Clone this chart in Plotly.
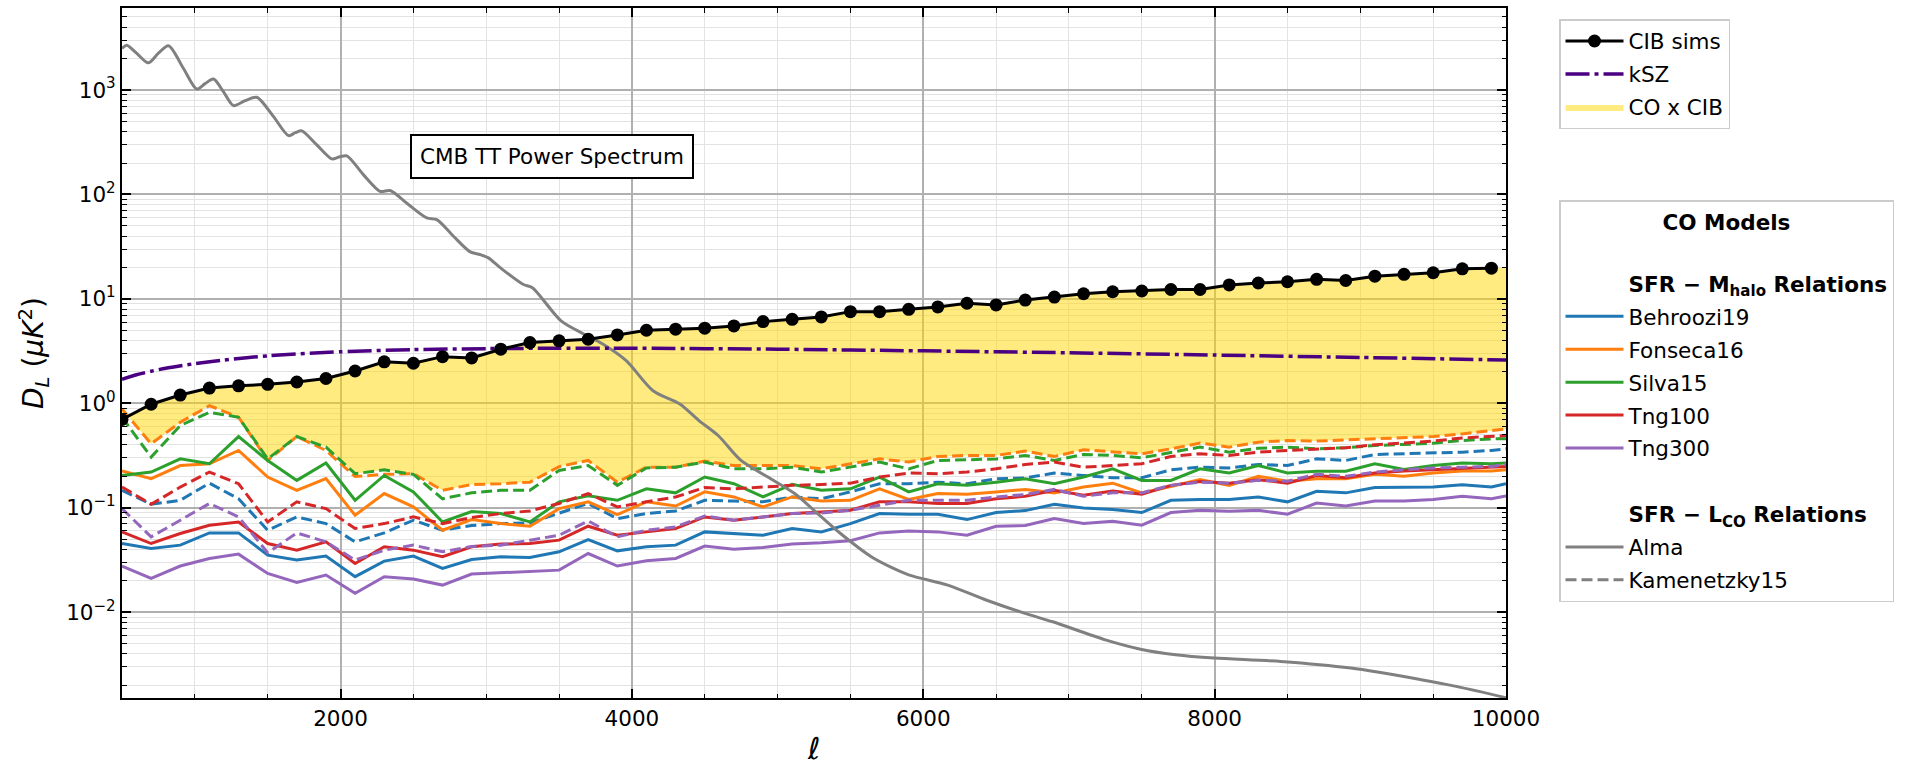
import numpy as np
import plotly.graph_objects as go

# ---------------- data ----------------
ell_bins = [500, 700, 900, 1100, 1300, 1500, 1700, 1900, 2100, 2300, 2500, 2700,
            2900, 3100, 3300, 3500, 3700, 3900, 4100, 4300, 4500, 4700, 4900, 5100,
            5300, 5500, 5700, 5900, 6100, 6300, 6500, 6700, 6900, 7100, 7300, 7500,
            7700, 7900, 8100, 8300, 8500, 8700, 8900, 9100, 9300, 9500, 9700, 9900]
ell_edge = [10000]

cib_sims = [0.70, 0.98, 1.20, 1.40, 1.47, 1.52, 1.60, 1.73, 2.04, 2.50, 2.42, 2.80,
            2.72, 3.30, 3.82, 3.97, 4.11, 4.52, 5.01, 5.13, 5.24, 5.51, 6.06, 6.38,
            6.72, 7.55, 7.55, 7.95, 8.37, 9.08, 8.75, 9.75, 10.4, 11.2, 11.7, 11.9,
            12.3, 12.3, 13.6, 14.2, 14.6, 15.4, 15.0, 16.5, 17.2, 17.8, 19.4, 19.7]
cib_edge = [19.8]

ell_ksz = [500, 600, 700, 800, 1000, 1200, 1500, 2000, 2500, 3000, 3500, 4000,
           5000, 6000, 7000, 8000, 9000, 10000]
ksz = [1.70, 1.88, 2.03, 2.17, 2.40, 2.60, 2.85, 3.12, 3.27, 3.34, 3.37, 3.37,
       3.30, 3.18, 3.05, 2.90, 2.75, 2.60]

ell_cmb = [500, 533, 600, 681, 750, 819, 922, 1013, 1070, 1128, 1196, 1265, 1345,
           1425, 1540, 1643, 1690, 1734, 1837, 1940, 1990, 2043, 2158, 2272, 2340,
           2466, 2592, 2661, 2775, 2890, 2958, 3015, 3096, 3252, 3317, 3514, 3672,
           3800, 3961, 4145, 4329, 4460, 4592, 4749, 4933, 5117, 5275, 5432, 5643,
           5774, 5905, 6168, 6431, 6694, 6889, 7250, 7491, 7732, 7997, 8454, 8935,
           9417, 9658, 10000]
cmb_tt = [2495, 2685, 2250, 1820, 2250, 2650, 1608, 1021, 1150, 1273, 964, 708, 790,
          851, 556, 366, 390, 406, 298, 219, 228, 234, 154, 107, 109,
          80, 59.6, 57.4, 39.8, 28.2, 26.6, 24.7, 19.9, 13.8, 12.8, 6.15, 4.59,
          3.7, 2.56, 1.32, 0.986, 0.684, 0.492, 0.284, 0.197, 0.137, 0.088, 0.0567, 0.034,
          0.0272, 0.0227, 0.0182, 0.0131, 0.0098, 0.0081, 0.00544, 0.00443, 0.00392, 0.00364, 0.00338, 0.00292,
          0.00226, 0.00195, 0.00152]

# CO models: "alma" = solid (SFR-L_CO Alma), "kam" = dashed (Kamenetzky15)
behroozi19_alma = [0.0455, 0.0408, 0.0439, 0.0575, 0.0575, 0.0352, 0.0316, 0.0345, 0.0219, 0.0309, 0.0345, 0.0263, 0.0320,
                   0.0340, 0.0334, 0.0379, 0.0497, 0.0387, 0.0423, 0.0439, 0.0588, 0.0567, 0.0546, 0.0633, 0.0588, 0.0706,
                   0.0880, 0.0867, 0.0867, 0.0771, 0.0900, 0.0940, 0.108, 0.0996, 0.0961, 0.0900, 0.118, 0.120, 0.120,
                   0.127, 0.114, 0.144, 0.139, 0.156, 0.158, 0.158, 0.166, 0.158, 0.170]
fonseca16_alma = [0.225, 0.190, 0.254, 0.264, 0.354, 0.197, 0.147, 0.190, 0.0848, 0.137, 0.102, 0.0610, 0.0771,
                  0.0706, 0.0666, 0.0982, 0.114, 0.0861, 0.114, 0.104, 0.142, 0.127, 0.102, 0.127, 0.116, 0.118,
                  0.152, 0.120, 0.137, 0.135, 0.142, 0.150, 0.139, 0.158, 0.172, 0.139, 0.160, 0.186, 0.164,
                  0.200, 0.180, 0.190, 0.190, 0.209, 0.200, 0.215, 0.225, 0.225, 0.231]
silva15_alma = [0.204, 0.220, 0.294, 0.264, 0.481, 0.284, 0.183, 0.268, 0.118, 0.204, 0.142, 0.0732, 0.0920,
                0.0880, 0.0732, 0.114, 0.130, 0.118, 0.152, 0.139, 0.197, 0.170, 0.127, 0.168, 0.147, 0.152,
                0.197, 0.142, 0.170, 0.164, 0.176, 0.190, 0.170, 0.197, 0.236, 0.183, 0.183, 0.236, 0.215,
                0.254, 0.215, 0.224, 0.224, 0.264, 0.233, 0.254, 0.268, 0.264, 0.268]
tng100_alma = [0.0588, 0.0455, 0.0567, 0.0681, 0.0732, 0.0455, 0.0393, 0.0472, 0.0293, 0.0423, 0.0393, 0.0340, 0.0423,
               0.0449, 0.0455, 0.0490, 0.0666, 0.0546, 0.0588, 0.0633, 0.0818, 0.0760, 0.0818, 0.0880, 0.0913, 0.0947,
               0.114, 0.114, 0.110, 0.110, 0.122, 0.129, 0.147, 0.132, 0.145, 0.135, 0.164, 0.179, 0.172,
               0.186, 0.172, 0.204, 0.194, 0.215, 0.225, 0.231, 0.236, 0.245, 0.249]
tng300_alma = [0.0277, 0.0211, 0.0277, 0.0327, 0.0360, 0.0235, 0.0193, 0.0227, 0.0152, 0.0219, 0.0208, 0.0182, 0.0232,
               0.0239, 0.0246, 0.0253, 0.0365, 0.0277, 0.0311, 0.0327, 0.0430, 0.0402, 0.0417, 0.0449, 0.0462, 0.0483,
               0.0575, 0.0601, 0.0588, 0.0546, 0.0666, 0.0676, 0.0788, 0.0706, 0.0743, 0.0681, 0.0900, 0.0947, 0.0927,
               0.0947, 0.0867, 0.111, 0.104, 0.116, 0.116, 0.120, 0.129, 0.122, 0.130]

behroozi19_kam = [0.147, 0.108, 0.118, 0.172, 0.122, 0.0610, 0.0818, 0.0706, 0.0472, 0.0575, 0.0760, 0.0610, 0.0676,
                  0.0706, 0.0716, 0.0880, 0.110, 0.0788, 0.0880, 0.0933, 0.118, 0.116, 0.114, 0.127, 0.122, 0.142,
                  0.170, 0.170, 0.176, 0.170, 0.190, 0.193, 0.215, 0.204, 0.194, 0.194, 0.231, 0.245, 0.241,
                  0.260, 0.254, 0.294, 0.284, 0.324, 0.329, 0.334, 0.341, 0.354, 0.367]
fonseca16_kam = [0.884, 0.410, 0.659, 0.951, 0.736, 0.284, 0.481, 0.354, 0.199, 0.209, 0.212, 0.147, 0.167,
                 0.170, 0.176, 0.248, 0.284, 0.176, 0.245, 0.245, 0.280, 0.254, 0.254, 0.254, 0.236, 0.264,
                 0.294, 0.274, 0.310, 0.317, 0.317, 0.349, 0.310, 0.359, 0.341, 0.329, 0.367, 0.416, 0.381,
                 0.425, 0.441, 0.435, 0.447, 0.457, 0.466, 0.481, 0.510, 0.549, 0.569]
silva15_kam = [0.736, 0.306, 0.613, 0.821, 0.736, 0.294, 0.481, 0.381, 0.212, 0.231, 0.209, 0.122, 0.139,
               0.147, 0.147, 0.228, 0.254, 0.164, 0.241, 0.245, 0.274, 0.236, 0.236, 0.245, 0.220, 0.245,
               0.274, 0.236, 0.284, 0.288, 0.294, 0.317, 0.284, 0.324, 0.317, 0.301, 0.341, 0.381, 0.341,
               0.372, 0.381, 0.367, 0.376, 0.395, 0.404, 0.416, 0.441, 0.457, 0.457]
tng100_kam = [0.158, 0.108, 0.158, 0.220, 0.170, 0.0732, 0.114, 0.0982, 0.0633, 0.0706, 0.0818, 0.0706, 0.0806,
              0.0880, 0.0933, 0.110, 0.137, 0.102, 0.114, 0.127, 0.156, 0.152, 0.158, 0.164, 0.167, 0.172,
              0.197, 0.215, 0.212, 0.220, 0.236, 0.260, 0.274, 0.245, 0.254, 0.264, 0.310, 0.329, 0.317,
              0.341, 0.354, 0.367, 0.376, 0.401, 0.416, 0.435, 0.466, 0.481, 0.492]
tng300_kam = [0.0982, 0.0527, 0.0760, 0.110, 0.0818, 0.0371, 0.0575, 0.0472, 0.0316, 0.0393, 0.0439, 0.0379, 0.0427,
              0.0439, 0.0490, 0.0546, 0.0749, 0.0527, 0.0610, 0.0656, 0.0836, 0.0760, 0.0818, 0.0880, 0.0893, 0.0947,
              0.106, 0.118, 0.118, 0.118, 0.127, 0.134, 0.150, 0.129, 0.139, 0.139, 0.164, 0.176, 0.172,
              0.183, 0.180, 0.209, 0.200, 0.220, 0.231, 0.241, 0.245, 0.249, 0.260]

model_names = ["Behroozi19", "Fonseca16", "Silva15", "Tng100", "Tng300"]
model_colors = ["#1f77b4", "#ff7f0e", "#2ca02c", "#d62728", "#9467bd"]
alma_series = [behroozi19_alma, fonseca16_alma, silva15_alma, tng100_alma, tng300_alma]
kam_series = [behroozi19_kam, fonseca16_kam, silva15_kam, tng100_kam, tng300_kam]

y_tick_vals = [1e-2, 1e-1, 1e0, 1e1, 1e2, 1e3]
y_tick_text = ["10<sup>−2</sup>", "10<sup>−1</sup>", "10<sup>0</sup>",
               "10<sup>1</sup>", "10<sup>2</sup>", "10<sup>3</sup>"]
y_minor_vals = [m * 10.0 ** e for e in range(-3, 4) for m in range(2, 10)]

# ---------------- figure ----------------
FONT = "DejaVu Sans"
FS = 21.5
ell_co = ell_bins + ell_edge

fig = go.Figure()

# CO x CIB band (between top CO curves and CIB sims)
band_low = np.maximum(np.array(fonseca16_kam), np.array(silva15_kam))
fig.add_trace(go.Scatter(x=ell_co, y=band_low, mode="lines", line=dict(width=0),
                         showlegend=False, hoverinfo="skip"))
fig.add_trace(go.Scatter(x=ell_co, y=cib_sims + cib_edge, mode="lines", line=dict(width=0),
                         fill="tonexty", fillcolor="rgba(255,215,0,0.5)",
                         name="CO x CIB", legend="legend", legendrank=3,
                         legendgroup="l3"))

# CO model curves
for nm, col, ya, yk in zip(model_names, model_colors, alma_series, kam_series):
    fig.add_trace(go.Scatter(x=ell_co, y=ya, mode="lines", line=dict(color=col, width=3),
                             showlegend=False, name=nm + " Alma"))
    fig.add_trace(go.Scatter(x=ell_co, y=yk, mode="lines",
                             line=dict(color=col, width=3, dash="11px,5px"),
                             showlegend=False, name=nm + " Kamenetzky15"))

# CMB TT
fig.add_trace(go.Scatter(x=ell_cmb, y=cmb_tt, mode="lines",
                         line=dict(color="#808080", width=3, shape="spline", smoothing=0.8),
                         showlegend=False, name="CMB TT"))

# kSZ
fig.add_trace(go.Scatter(x=ell_ksz, y=ksz, mode="lines",
                         line=dict(color="#4b0082", width=3.5, dash="24px,5px,4px,5px",
                                   shape="spline", smoothing=0.6),
                         name="kSZ", legend="legend", legendrank=2, legendgroup="l2"))

# CIB sims
fig.add_trace(go.Scatter(x=ell_bins, y=cib_sims, mode="lines+markers",
                         line=dict(color="black", width=3),
                         marker=dict(color="black", size=13),
                         name="CIB sims", legend="legend", legendrank=1, legendgroup="l1"))

# Legend 2 entries (proxies)
rank = 1
def proxy(name, color, dash=None, width=3):
    global rank
    fig.add_trace(go.Scatter(x=[None], y=[None], mode="lines",
                             line=dict(color=color, width=width, dash=dash),
                             name=name, legend="legend2", legendrank=rank,
                             legendgroup="g%d" % rank))
    rank += 1

proxy(" ", "rgba(0,0,0,0)")
proxy("<b>SFR − M<sub>halo</sub> Relations</b>", "rgba(0,0,0,0)")
for nm, col in zip(model_names, model_colors):
    proxy(nm, col)
proxy(" ", "rgba(0,0,0,0)")
proxy("<b>SFR − L<sub>CO</sub> Relations</b>", "rgba(0,0,0,0)")
proxy("Alma", "#808080")
proxy("Kamenetzky15", "#808080", dash="11px,5px")

fig.add_annotation(x=3449, y=np.log10(231), xref="x", yref="y",
                   text="CMB TT Power Spectrum", showarrow=False,
                   font=dict(family=FONT, size=FS, color="black"),
                   bordercolor="black", borderwidth=2, borderpad=8,
                   bgcolor="white")

axis_common = dict(showline=True, linecolor="black", linewidth=2, mirror="allticks",
                   ticks="inside", ticklen=9, tickwidth=1.5, tickcolor="black",
                   showgrid=True, gridcolor="#b0b0b0", gridwidth=1.5, zeroline=False,
                   tickfont=dict(family=FONT, size=FS, color="black"))

fig.update_layout(
    width=1911, height=767,
    margin=dict(l=122, r=405, t=6, b=69),
    paper_bgcolor="white", plot_bgcolor="white",
    font=dict(family=FONT, size=FS, color="black"),
    xaxis=dict(range=[500, 10000], tickmode="linear", tick0=0, dtick=2000, tickformat="d",
               minor=dict(dtick=500, tick0=0, ticks="inside", ticklen=4.5, tickwidth=1.2,
                          tickcolor="black", showgrid=True, gridcolor="#e3e3e3", gridwidth=1.2),
               title=dict(text="<i>ℓ</i>", font=dict(family=FONT, size=30), standoff=8),
               **axis_common),
    yaxis=dict(type="log", range=[-2.821, 3.785], tickmode="array",
               tickvals=y_tick_vals, ticktext=y_tick_text,
               minor=dict(tickmode="array", tickvals=y_minor_vals, ticks="inside", ticklen=4.5,
                          tickwidth=1.2, tickcolor="black", showgrid=True,
                          gridcolor="#e3e3e3", gridwidth=1.2),
               title=dict(text="<i>D<sub>L</sub></i> (<i>μK</i><sup>2</sup>)",
                          font=dict(family=FONT, size=28), standoff=14),
               **axis_common),
    legend=dict(x=1.0383, xanchor="left", y=0.984, yanchor="top",
                bgcolor="white", bordercolor="#cccccc", borderwidth=1.5,
                font=dict(family=FONT, size=FS), itemwidth=58, tracegroupgap=2,
                traceorder="grouped"),
    legend2=dict(x=1.0383, xanchor="left", y=0.7211, yanchor="top",
                 bgcolor="white", bordercolor="#cccccc", borderwidth=1.5,
                 font=dict(family=FONT, size=FS), itemwidth=58, tracegroupgap=2,
                 traceorder="grouped",
                 title=dict(text="<b>CO Models</b>", side="top center",
                            font=dict(family=FONT, size=FS))),
)

fig.write_html("out.html")
